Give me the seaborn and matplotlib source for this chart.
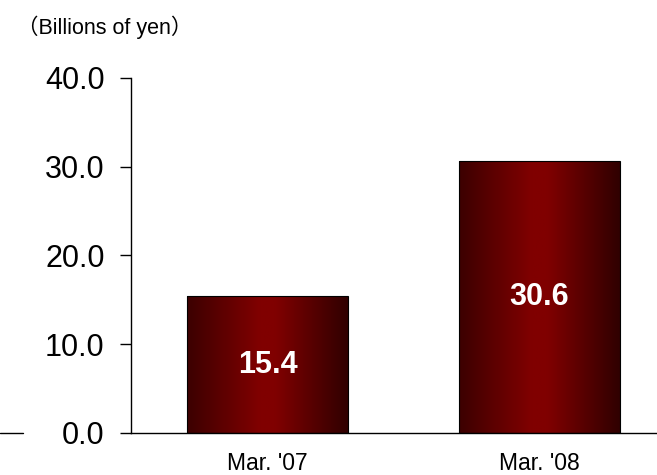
import numpy as np
import pandas as pd
import matplotlib
matplotlib.use("Agg")
import matplotlib.pyplot as plt
from matplotlib.colors import LinearSegmentedColormap
from matplotlib.lines import Line2D
import seaborn as sns

# chart data
periods = ["Mar. '07", "Mar. '08"]
values = [15.4, 30.6]
y_ticks = [0, 10, 20, 30, 40]
unit_label = "（Billions of yen）"

df = pd.DataFrame({"period": periods, "value": values})

sns.set_style("white")
plt.rcParams["font.family"] = ["Liberation Sans", "Noto Sans CJK JP", "DejaVu Sans"]
plt.rcParams["text.color"] = "black"
plt.rcParams["xtick.color"] = "black"
plt.rcParams["ytick.color"] = "black"

fig = plt.figure(figsize=(6.57, 4.75), dpi=100)
ax = fig.add_axes([131 / 657, 42 / 475, 526 / 657, (433 - 77.7) / 475])

sns.barplot(data=df, x="period", y="value", width=0.59, color="#800000",
            edgecolor="black", linewidth=0.8, ax=ax)

# horizontal dark-red gradient inside each bar
grad_cmap = LinearSegmentedColormap.from_list(
    "bar_grad", [(0.0, "#3c0000"), (0.45, "#800000"), (0.55, "#800000"), (1.0, "#300000")])
grad = np.linspace(0, 1, 256).reshape(1, -1)
for patch, v in zip(ax.patches, values):
    x0, y0 = patch.get_x(), patch.get_y()
    w, h = patch.get_width(), patch.get_height()
    im = ax.imshow(grad, cmap=grad_cmap, aspect="auto", extent=[x0, x0 + w, y0, y0 + h],
                   zorder=patch.get_zorder() - 0.1, interpolation="bicubic")
    im.set_clip_path(patch)
    patch.set_facecolor("none")
    ax.text(x0 + w / 2, v / 2, f"{v:.1f}", ha="center", va="center",
            color="white", fontsize=22, fontweight="bold", zorder=5)

ax.set_xlim(-0.502, 1.432)
ax.set_ylim(0, 40)
ax.set_yticks(y_ticks)
ax.set_yticklabels([f"{t:.1f}" for t in y_ticks], fontsize=22)
ax.tick_params(axis="y", left=True, direction="out", length=8, width=1, pad=11,
               color="black", labelcolor="black")
ax.tick_params(axis="x", bottom=False, length=0, pad=14, labelsize=16.5, labelcolor="black")
ax.set_xlabel("")
ax.set_ylabel("")

for side in ["top", "right"]:
    ax.spines[side].set_visible(False)
for side in ["left", "bottom"]:
    ax.spines[side].set_color("black")
    ax.spines[side].set_linewidth(1)

fig.text(17 / 657, 1 - 27 / 475, unit_label, fontsize=15.5, ha="left", va="center", color="black")

# short stray rule at far left of the baseline
fig.add_artist(Line2D([0, 23 / 657], [42 / 475, 42 / 475], color="black", linewidth=1))

fig.savefig("out.png", dpi=100)
